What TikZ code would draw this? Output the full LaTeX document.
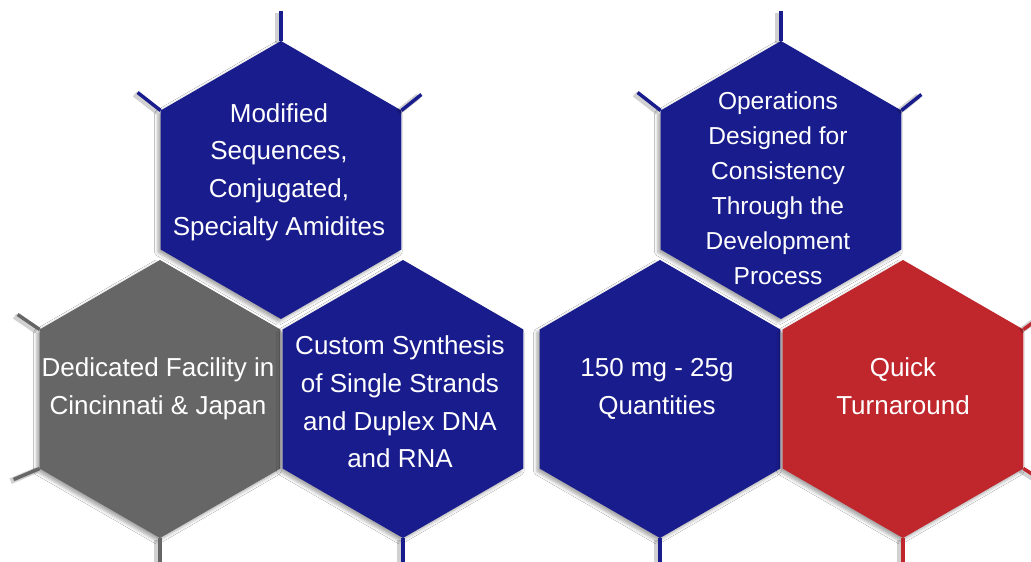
\documentclass[tikz,border=0pt]{standalone}
\usepackage{fontspec}
\setmainfont{Liberation Sans}
\usetikzlibrary{shapes.geometric,shadows.blur}
\definecolor{navy}{RGB}{25,28,140}
\definecolor{slate}{RGB}{102,102,102}
\definecolor{brick}{RGB}{192,39,45}
\tikzset{
	hexa/.style={
		regular polygon,
		regular polygon sides=6,
		shape border rotate=30,
		minimum size=208.5pt,
		inner sep=0pt,
		outer sep=0pt,
		blur shadow={shadow xshift=-2pt, shadow yshift=-2.2pt,
			shadow blur radius=2.5pt, shadow opacity=35}},
	spoke/.style={
		line width=2.6pt,
		preaction={draw=black, opacity=0.18, line width=4.5pt,
			transform canvas={xshift=-2.2pt, yshift=-1.2pt}}},
	txt/.style={
		text=white,
		align=center,
		inner sep=0pt,
		font=\fontsize{19.5}{28.2}\selectfont}
}

\begin{document}
\begin{tikzpicture}[x=0.75pt,y=0.75pt,yscale=-1,xscale=1]
\clip (0,0) rectangle (1031,561);
\fill[white] (0,0) rectangle (1031,561);

% top row
\node[hexa, fill=navy] (mods) at (281,180) {};
\node[hexa, fill=navy] (ops) at (781,180) {};
% bottom row
\node[hexa, fill=slate] (site) at (160,399) {};
\node[hexa, fill=navy] (synth) at (403,399) {};
\node[hexa, fill=navy] (qty) at (660,399) {};
\node[hexa, fill=brick] (quick) at (903,399) {};

% spokes on the outer corners
\draw[spoke, navy] (mods.90) -- ++(0,-30);
\draw[spoke, navy] (mods.150) -- ++(-23,-18);
\draw[spoke, navy] (mods.30) -- ++(20,-16);
\draw[spoke, navy] (ops.90) -- ++(0,-30);
\draw[spoke, navy] (ops.150) -- ++(-23,-18);
\draw[spoke, navy] (ops.30) -- ++(20,-16);
\draw[spoke, slate] (site.150) -- ++(-22,-15);
\draw[spoke, slate] (site.210) -- ++(-26,11);
\draw[spoke, slate] (site.270) -- ++(0,30);
\draw[spoke, navy] (synth.270) -- ++(0,30);
\draw[spoke, navy] (qty.270) -- ++(0,30);
\draw[spoke, brick] (quick.270) -- ++(0,30);
\draw[spoke, brick] (quick.30) -- ++(22,-16);
\draw[spoke, brick] (quick.330) -- ++(22,14);

% Text Node
\node[txt] (modsT) at (279,172) {Modified\\Sequences,\\Conjugated,\\Specialty Amidites};
% Text Node
\node[txt, font=\fontsize{18.4}{26.2}\selectfont] (opsT) at (778,188) {Operations\\Designed for\\Consistency\\Through the\\Development\\Process};
% Text Node
\node[txt] (siteT) at (158,389) {Dedicated Facility in\\Cincinnati \& Japan};
% Text Node
\node[txt] (synthT) at (400,402) {Custom Synthesis\\of Single Strands\\and Duplex DNA\\and RNA};
% Text Node
\node[txt] (qtyT) at (657,389) {150 mg - 25g\\Quantities};
% Text Node
\node[txt] (quickT) at (903,386) {Quick\\Turnaround};
\end{tikzpicture}
\end{document}
